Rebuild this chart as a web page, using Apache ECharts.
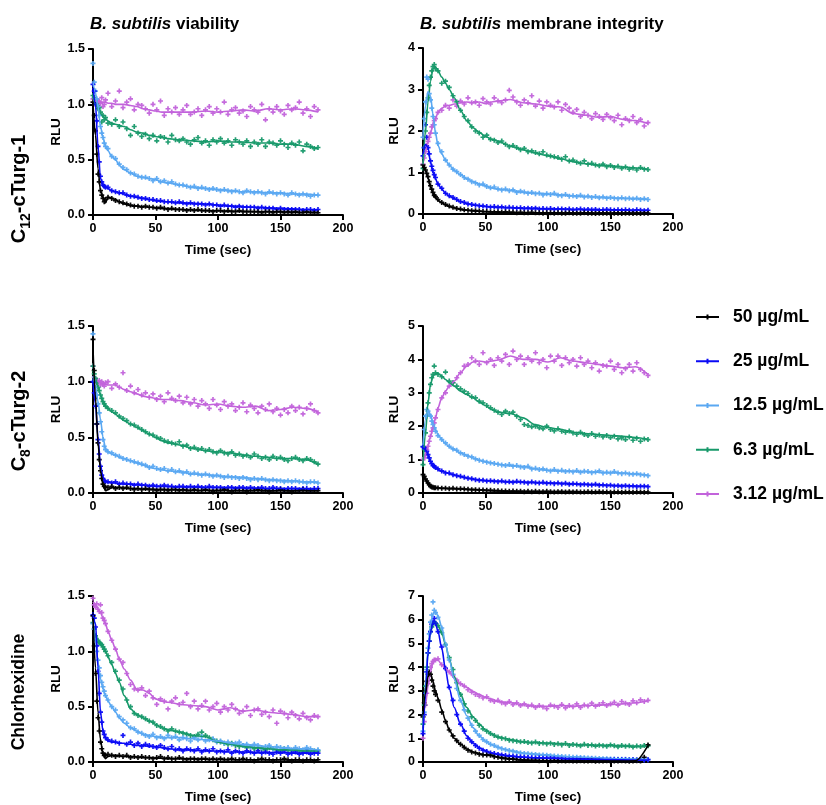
<!DOCTYPE html>
<html><head><meta charset="utf-8">
<script src="https://cdn.jsdelivr.net/npm/echarts@6/dist/echarts.min.js"></script>
<style>html,body{margin:0;padding:0;background:#fff}#chart{width:826px;height:805px}</style>
</head><body><div id="chart"></div>
<script>
const concentrations = ['50 µg/mL', '25 µg/mL', '12.5 µg/mL', '6.3 µg/mL', '3.12 µg/mL'];
const seriesColors = ['#000000', '#0A0AF5', '#5AA8F2', '#17996A', '#C263DB'];
const xTicks = [0, 50, 100, 150, 200];
const fitTimes = [0,2,4,6,8,10,12,15,18,21,25,30,35,40,45,50,55,60,70,80,90,100,110,120,130,140,150,160,170,180];
const pointTimes = [0,1,2,3,4,5,6,7,8,9,10,12,15,18,21,24,27,30,33,36,39,42,45,48,51,54,57,60,63,66,69,72,75,78,81,84,87,90,93,96,99,102,105,108,111,114,117,120,123,126,129,132,135,138,141,144,147,150,153,156,159,162,165,168,171,174,177,180];

// ---- C12-cTurg-1, viability ----
const c12ViaFit50 = [1.0,0.72,0.42,0.22,0.16,0.11,0.16,0.15,0.14,0.12,0.1,0.085,0.08,0.075,0.07,0.065,0.06,0.056,0.05,0.045,0.04,0.038,0.035,0.033,0.03,0.03,0.028,0.026,0.025,0.024];
const c12ViaFit25 = [1.15,1.0,0.62,0.33,0.27,0.25,0.24,0.22,0.21,0.2,0.19,0.17,0.16,0.15,0.14,0.13,0.125,0.12,0.11,0.105,0.1,0.09,0.08,0.075,0.07,0.065,0.06,0.055,0.05,0.048];
const c12ViaFit12_5 = [1.2,1.1,0.98,0.8,0.7,0.62,0.58,0.53,0.5,0.45,0.41,0.38,0.35,0.34,0.33,0.32,0.3,0.29,0.27,0.25,0.24,0.23,0.22,0.21,0.21,0.2,0.2,0.19,0.19,0.18];
const c12ViaFit6_3 = [1.07,1.0,0.96,0.92,0.89,0.87,0.85,0.83,0.82,0.81,0.8,0.77,0.75,0.74,0.72,0.71,0.7,0.69,0.68,0.67,0.66,0.67,0.66,0.66,0.65,0.65,0.64,0.64,0.62,0.6];
const c12ViaFit3_12 = [1.04,1.03,1.02,1.02,1.02,1.02,1.01,1.01,1.0,1.0,1.0,0.99,0.98,0.96,0.95,0.94,0.93,0.93,0.93,0.93,0.94,0.93,0.94,0.95,0.94,0.96,0.95,0.96,0.95,0.93];
const c12ViaPts50 = [1.02,0.9,0.76,0.55,0.37,0.3,0.22,0.18,0.15,0.12,0.14, 0.16,0.15,0.13,0.12,0.11,0.1,0.09,0.08,0.08,0.07, 0.08,0.07,0.07,0.06,0.07,0.06,0.05,0.06,0.05,0.05, 0.05,0.04,0.05,0.04,0.05,0.04,0.04,0.04,0.03,0.04, 0.04,0.03,0.04,0.03,0.03,0.04,0.03,0.03,0.03,0.03, 0.03,0.02,0.03,0.03,0.02,0.03,0.03,0.02,0.03,0.02, 0.03,0.02,0.02,0.03,0.02,0.02,0.02];
const c12ViaPts25 = [1.18,1.12,1.0,0.85,0.62,0.48,0.35,0.3,0.27,0.26,0.25, 0.25,0.22,0.21,0.2,0.2,0.18,0.17,0.17,0.16,0.15, 0.15,0.14,0.14,0.13,0.13,0.12,0.12,0.12,0.11,0.12, 0.11,0.1,0.11,0.1,0.1,0.1,0.09,0.1,0.09,0.09, 0.08,0.09,0.08,0.08,0.07,0.08,0.07,0.07,0.07,0.07, 0.06,0.07,0.06,0.06,0.06,0.05,0.06,0.05,0.05,0.05, 0.05,0.05,0.04,0.05,0.05,0.04,0.05];
const c12ViaPts12_5 = [1.37,1.2,1.12,1.05,0.98,0.9,0.8,0.74,0.7,0.65,0.62, 0.6,0.53,0.51,0.46,0.43,0.41,0.38,0.37,0.35,0.34, 0.34,0.33,0.31,0.33,0.3,0.31,0.29,0.3,0.28,0.27, 0.27,0.26,0.25,0.26,0.24,0.25,0.24,0.23,0.24,0.23, 0.22,0.23,0.22,0.21,0.22,0.21,0.2,0.22,0.21,0.2, 0.21,0.2,0.19,0.21,0.2,0.19,0.2,0.19,0.18,0.2, 0.19,0.18,0.19,0.18,0.17,0.18,0.18];
const c12ViaPts6_3 = [1.08,1.06,1.03,1.0,0.96,0.97,0.93,0.84,0.9,0.86,0.88, 0.83,0.82,0.86,0.8,0.84,0.78,0.72,0.8,0.74,0.71, 0.73,0.69,0.72,0.67,0.71,0.7,0.66,0.72,0.68,0.67, 0.69,0.66,0.64,0.68,0.7,0.65,0.67,0.63,0.68,0.66, 0.69,0.65,0.67,0.63,0.68,0.66,0.64,0.67,0.62,0.66, 0.64,0.68,0.62,0.66,0.65,0.63,0.67,0.64,0.61,0.65, 0.63,0.66,0.58,0.64,0.62,0.6,0.61];
const c12ViaPts3_12 = [1.05,1.02,1.0,1.04,0.99,1.03,1.01,1.06,0.98,1.0,1.04, 1.1,0.98,1.03,1.12,0.97,1.02,1.05,0.95,1.0,0.99, 0.96,0.92,1.0,0.95,1.03,0.9,0.96,0.93,0.97,0.91, 0.95,0.99,0.91,0.93,0.96,0.9,0.95,0.98,0.92,0.96, 0.93,1.02,0.91,0.95,0.97,0.92,0.94,0.89,0.98,0.95, 0.93,1.0,0.86,0.96,0.93,0.98,0.94,0.91,0.99,0.95, 0.97,1.02,0.92,0.96,0.89,0.98,0.95];

// ---- C12-cTurg-1, membrane integrity ----
const c12MemFit50 = [1.15,1.05,0.88,0.65,0.5,0.4,0.33,0.27,0.22,0.18,0.15,0.11,0.09,0.075,0.065,0.055,0.05,0.045,0.04,0.035,0.03,0.03,0.025,0.025,0.02,0.02,0.02,0.02,0.02,0.02];
const c12MemFit25 = [1.45,1.68,1.6,1.25,1.0,0.85,0.72,0.6,0.5,0.43,0.37,0.3,0.25,0.22,0.2,0.18,0.17,0.16,0.15,0.14,0.13,0.12,0.12,0.11,0.11,0.1,0.1,0.1,0.09,0.09];
const c12MemFit12_5 = [1.9,2.6,2.95,2.85,2.4,1.95,1.65,1.45,1.3,1.18,1.05,0.95,0.85,0.78,0.72,0.68,0.63,0.6,0.57,0.52,0.5,0.48,0.46,0.44,0.42,0.41,0.39,0.38,0.37,0.35];
const c12MemFit6_3 = [1.2,2.0,2.7,3.2,3.5,3.55,3.45,3.3,3.15,3.0,2.8,2.5,2.25,2.08,1.97,1.87,1.8,1.75,1.64,1.55,1.47,1.4,1.33,1.26,1.21,1.18,1.16,1.13,1.11,1.08];
const c12MemFit3_12 = [1.2,1.5,1.75,1.95,2.15,2.3,2.45,2.55,2.6,2.62,2.65,2.68,2.7,2.68,2.7,2.66,2.7,2.72,2.76,2.68,2.65,2.6,2.58,2.42,2.38,2.33,2.35,2.28,2.25,2.18];
const c12MemPts50 = [1.18,1.12,1.06,0.98,0.9,0.78,0.68,0.6,0.52,0.45,0.42, 0.35,0.28,0.23,0.19,0.16,0.13,0.12,0.1,0.09,0.08, 0.08,0.07,0.06,0.06,0.05,0.05,0.05,0.04,0.05,0.04, 0.04,0.03,0.04,0.03,0.03,0.04,0.03,0.03,0.02,0.03, 0.03,0.02,0.03,0.02,0.02,0.03,0.02,0.02,0.02,0.03, 0.02,0.02,0.01,0.02,0.02,0.02,0.01,0.02,0.02,0.01, 0.02,0.02,0.01,0.02,0.01,0.02,0.02];
const c12MemPts25 = [1.4,1.6,2.15,1.85,1.6,1.45,1.28,1.15,1.05,0.95,0.88, 0.72,0.62,0.5,0.44,0.4,0.35,0.3,0.28,0.24,0.23, 0.21,0.2,0.19,0.18,0.17,0.18,0.16,0.17,0.15,0.16, 0.15,0.14,0.15,0.13,0.14,0.13,0.14,0.12,0.13,0.12, 0.13,0.11,0.12,0.12,0.11,0.12,0.1,0.11,0.12,0.1, 0.11,0.1,0.11,0.09,0.1,0.11,0.1,0.09,0.1,0.09, 0.1,0.09,0.08,0.1,0.09,0.08,0.09];
const c12MemPts12_5 = [1.85,2.3,2.7,3.3,3.25,2.9,2.75,2.55,2.35,2.15,1.95, 1.7,1.5,1.3,1.18,1.08,1.02,0.95,0.88,0.84,0.78, 0.75,0.7,0.72,0.66,0.63,0.65,0.6,0.58,0.6,0.56, 0.58,0.52,0.55,0.53,0.5,0.52,0.49,0.5,0.46,0.49, 0.47,0.5,0.45,0.44,0.47,0.43,0.44,0.42,0.45,0.41, 0.43,0.4,0.42,0.39,0.41,0.38,0.4,0.38,0.37,0.39, 0.37,0.38,0.36,0.38,0.35,0.37,0.35];
const c12MemPts6_3 = [1.1,1.6,2.0,2.45,2.8,3.1,3.3,3.45,3.55,3.6,3.5, 3.45,3.15,3.2,3.05,2.85,2.7,2.5,2.35,2.25,2.1, 2.0,1.95,1.85,1.9,1.8,1.78,1.72,1.76,1.68,1.62, 1.65,1.6,1.55,1.58,1.5,1.52,1.48,1.45,1.5,1.42, 1.4,1.38,1.36,1.32,1.38,1.28,1.3,1.25,1.22,1.28, 1.2,1.22,1.18,1.16,1.2,1.14,1.17,1.12,1.15,1.1, 1.13,1.08,1.11,1.06,1.12,1.08,1.07];
const c12MemPts3_12 = [1.2,1.35,1.5,1.65,1.75,1.85,1.95,2.1,2.15,2.25,2.3, 2.45,2.5,2.62,2.55,2.75,2.6,2.72,2.65,2.8,2.68, 2.7,2.62,2.78,2.7,2.65,2.8,2.72,2.68,2.75,2.98, 2.82,2.7,2.62,2.75,2.68,2.85,2.6,2.72,2.55,2.7, 2.62,2.58,2.7,2.5,2.64,2.55,2.45,2.52,2.35,2.45, 2.38,2.3,2.42,2.35,2.28,2.4,2.32,2.25,2.38,2.15, 2.3,2.25,2.35,2.2,2.28,2.12,2.2];

// ---- C8-cTurg-2, viability ----
const c8ViaFit50 = [1.3,0.85,0.45,0.2,0.07,0.02,0.03,0.05,0.05,0.05,0.045,0.04,0.04,0.035,0.035,0.033,0.03,0.03,0.028,0.025,0.025,0.024,0.023,0.022,0.022,0.021,0.02,0.02,0.02,0.02];
const c8ViaFit25 = [1.0,0.8,0.5,0.25,0.14,0.11,0.1,0.095,0.09,0.085,0.08,0.08,0.075,0.07,0.065,0.06,0.06,0.058,0.055,0.055,0.05,0.05,0.048,0.045,0.045,0.04,0.04,0.04,0.038,0.036];
const c8ViaFit12_5 = [1.05,0.95,0.82,0.66,0.5,0.4,0.37,0.35,0.34,0.32,0.31,0.29,0.27,0.25,0.23,0.22,0.21,0.2,0.19,0.17,0.165,0.155,0.145,0.14,0.13,0.12,0.115,0.11,0.1,0.095];
const c8ViaFit6_3 = [1.1,1.03,0.95,0.88,0.82,0.78,0.76,0.73,0.71,0.68,0.65,0.62,0.59,0.56,0.53,0.5,0.47,0.45,0.43,0.4,0.38,0.37,0.36,0.34,0.33,0.32,0.31,0.31,0.3,0.26];
const c8ViaFit3_12 = [1.05,1.02,1.0,0.99,0.98,0.98,0.97,0.97,0.97,0.95,0.93,0.91,0.89,0.87,0.86,0.85,0.84,0.84,0.83,0.81,0.79,0.8,0.78,0.77,0.78,0.74,0.75,0.77,0.76,0.73];
const c8ViaPts50 = [1.38,1.1,0.85,0.62,0.45,0.3,0.2,0.13,0.08,0.06,0.05, 0.05,0.06,0.04,0.05,0.04,0.05,0.04,0.03,0.04,0.03, 0.04,0.03,0.03,0.02,0.03,0.03,0.02,0.03,0.03,0.02, 0.03,0.02,0.02,0.03,0.02,0.02,0.03,0.02,0.01,0.02, 0.02,0.03,0.02,0.01,0.02,0.02,0.02,0.01,0.02,0.02, 0.03,0.02,0.02,0.01,0.02,0.02,0.03,0.02,0.02,0.01, 0.02,0.02,0.03,0.02,0.02,0.02,0.02];
const c8ViaPts25 = [1.0,0.9,0.78,0.62,0.48,0.35,0.24,0.16,0.13,0.11,0.1, 0.1,0.09,0.1,0.08,0.09,0.08,0.08,0.07,0.08,0.07, 0.07,0.06,0.07,0.06,0.06,0.07,0.06,0.06,0.05,0.06, 0.06,0.05,0.06,0.05,0.06,0.05,0.05,0.06,0.05,0.05, 0.05,0.04,0.05,0.05,0.04,0.05,0.05,0.04,0.05,0.04, 0.04,0.05,0.04,0.04,0.05,0.04,0.04,0.03,0.04,0.04, 0.04,0.03,0.04,0.04,0.03,0.04,0.04];
const c8ViaPts12_5 = [1.43,1.0,0.95,0.88,0.8,0.72,0.64,0.55,0.48,0.42,0.39, 0.37,0.36,0.34,0.33,0.31,0.3,0.29,0.28,0.27,0.26, 0.25,0.23,0.24,0.22,0.21,0.22,0.2,0.21,0.19,0.2, 0.18,0.19,0.17,0.18,0.17,0.16,0.17,0.16,0.15,0.16, 0.15,0.14,0.15,0.14,0.14,0.13,0.14,0.13,0.12,0.13, 0.12,0.13,0.12,0.11,0.12,0.11,0.11,0.1,0.11,0.1, 0.11,0.1,0.1,0.09,0.1,0.1,0.09];
const c8ViaPts6_3 = [1.14,1.07,1.03,0.99,0.95,0.92,0.88,0.85,0.82,0.8,0.78, 0.76,0.74,0.72,0.69,0.67,0.65,0.62,0.61,0.59,0.57, 0.55,0.53,0.52,0.5,0.49,0.47,0.46,0.45,0.44,0.46, 0.42,0.43,0.4,0.41,0.39,0.4,0.38,0.39,0.37,0.36, 0.38,0.36,0.35,0.37,0.34,0.35,0.33,0.34,0.32,0.35, 0.33,0.31,0.32,0.3,0.33,0.31,0.32,0.3,0.29,0.31, 0.32,0.3,0.29,0.31,0.3,0.28,0.26];
const c8ViaPts3_12 = [1.14,1.04,1.02,1.0,0.99,1.01,0.97,1.0,0.98,0.96,0.99, 1.0,0.94,0.98,0.95,1.08,0.92,0.96,0.9,0.93,0.88, 0.9,0.86,0.89,0.84,0.87,0.82,0.9,0.85,0.83,0.87, 0.81,0.86,0.8,0.84,0.78,0.83,0.8,0.76,0.84,0.79, 0.75,0.82,0.78,0.8,0.74,0.77,0.81,0.73,0.79,0.76, 0.72,0.78,0.75,0.8,0.73,0.76,0.7,0.75,0.72,0.78, 0.74,0.77,0.71,0.76,0.8,0.74,0.72];

// ---- C8-cTurg-2, membrane integrity ----
const c8MemFit50 = [0.55,0.4,0.28,0.2,0.17,0.16,0.15,0.14,0.14,0.13,0.13,0.12,0.11,0.1,0.09,0.08,0.07,0.06,0.05,0.05,0.04,0.04,0.04,0.04,0.035,0.035,0.03,0.03,0.03,0.03];
const c8MemFit25 = [1.35,1.3,1.15,0.95,0.82,0.75,0.7,0.65,0.62,0.58,0.54,0.49,0.45,0.42,0.39,0.37,0.36,0.35,0.33,0.33,0.31,0.3,0.29,0.27,0.26,0.25,0.23,0.22,0.21,0.2];
const c8MemFit12_5 = [1.45,2.2,2.48,2.35,2.1,1.9,1.75,1.6,1.48,1.38,1.3,1.2,1.13,1.05,0.98,0.94,0.9,0.86,0.82,0.8,0.72,0.68,0.66,0.65,0.64,0.62,0.61,0.6,0.57,0.53];
const c8MemFit6_3 = [0.9,1.8,2.7,3.25,3.5,3.58,3.58,3.5,3.4,3.3,3.2,3.05,2.95,2.85,2.72,2.62,2.5,2.42,2.38,2.25,2.04,1.96,1.9,1.82,1.78,1.75,1.72,1.7,1.66,1.6];
const c8MemFit3_12 = [1.0,1.15,1.4,1.7,1.95,2.25,2.55,2.85,3.05,3.2,3.35,3.6,3.8,3.92,3.95,3.92,3.95,3.98,4.1,4.0,4.0,3.92,4.05,3.95,3.9,3.85,3.8,3.75,3.78,3.55];
const c8MemPts50 = [0.55,0.5,0.42,0.36,0.3,0.25,0.2,0.18,0.17,0.16,0.16, 0.15,0.14,0.14,0.13,0.14,0.12,0.13,0.12,0.11,0.1, 0.1,0.09,0.09,0.08,0.08,0.07,0.07,0.06,0.06,0.05, 0.06,0.05,0.05,0.04,0.05,0.04,0.05,0.04,0.04,0.05, 0.04,0.03,0.04,0.04,0.03,0.04,0.03,0.04,0.03,0.03, 0.04,0.03,0.03,0.04,0.03,0.03,0.02,0.03,0.03,0.02, 0.03,0.03,0.02,0.03,0.03,0.02,0.03];
const c8MemPts25 = [1.38,1.35,1.32,1.25,1.15,1.05,0.95,0.88,0.82,0.8,0.76, 0.72,0.66,0.6,0.6,0.55,0.52,0.5,0.47,0.44,0.43, 0.4,0.38,0.38,0.36,0.37,0.35,0.34,0.36,0.33,0.34, 0.32,0.35,0.33,0.32,0.3,0.33,0.31,0.3,0.32,0.29, 0.3,0.28,0.3,0.27,0.29,0.26,0.28,0.27,0.25,0.26, 0.25,0.24,0.26,0.23,0.24,0.22,0.23,0.21,0.22,0.2, 0.22,0.2,0.21,0.19,0.2,0.2,0.19];
const c8MemPts12_5 = [1.4,1.9,2.3,2.5,2.45,2.35,2.3,2.15,2.05,1.95,1.85, 1.72,1.6,1.5,1.4,1.32,1.28,1.2,1.15,1.1,1.08, 1.02,0.98,0.95,0.92,0.9,0.88,0.86,0.84,0.82,0.85, 0.8,0.82,0.78,0.76,0.8,0.72,0.74,0.7,0.72,0.68, 0.66,0.7,0.65,0.68,0.64,0.66,0.63,0.67,0.62,0.65, 0.64,0.61,0.63,0.66,0.6,0.62,0.6,0.64,0.6,0.58, 0.6,0.57,0.56,0.58,0.55,0.54,0.52];
const c8MemPts6_3 = [0.85,1.3,1.8,2.3,2.7,3.0,3.25,3.45,3.55,3.8,3.6, 3.55,3.48,3.62,3.35,3.3,3.2,3.12,3.05,2.98,2.88, 2.85,2.75,2.7,2.62,2.55,2.48,2.42,2.35,2.45,2.38, 2.42,2.3,2.2,2.05,2.02,1.98,2.0,1.95,1.92,2.0, 1.9,1.86,1.92,1.85,1.82,1.86,1.8,1.76,1.82,1.75, 1.72,1.78,1.7,1.74,1.68,1.72,1.66,1.7,1.62,1.65, 1.6,1.68,1.58,1.64,1.55,1.62,1.6];
const c8MemPts3_12 = [1.0,1.05,1.15,1.3,1.4,1.55,1.7,1.85,1.95,2.1,2.25, 2.5,2.85,3.0,3.2,3.3,3.45,3.6,3.8,3.85,4.05, 3.95,3.85,4.2,3.9,4.0,3.82,4.05,3.95,4.15,3.85, 4.25,4.0,4.1,3.85,4.05,3.95,4.2,3.9,4.0,3.75, 4.1,3.95,4.1,3.82,4.05,3.9,4.0,3.8,4.05,3.85, 3.95,3.75,3.9,3.65,3.82,3.8,3.95,3.7,3.85,3.6, 3.72,3.85,3.65,3.9,3.7,3.6,3.52];

// ---- Chlorhexidine, viability ----
const chxViaFit50 = [1.3,0.85,0.45,0.2,0.07,0.03,0.05,0.06,0.06,0.055,0.05,0.05,0.045,0.04,0.04,0.035,0.035,0.03,0.03,0.028,0.025,0.025,0.022,0.02,0.02,0.02,0.02,0.019,0.018,0.018];
const chxViaFit25 = [1.33,1.25,0.85,0.45,0.28,0.22,0.19,0.18,0.18,0.17,0.17,0.16,0.15,0.15,0.14,0.14,0.13,0.12,0.11,0.11,0.1,0.1,0.09,0.09,0.085,0.085,0.085,0.08,0.08,0.08];
const chxViaFit12_5 = [1.25,1.1,0.9,0.75,0.66,0.6,0.55,0.5,0.45,0.4,0.35,0.31,0.28,0.25,0.24,0.23,0.22,0.22,0.22,0.21,0.2,0.19,0.17,0.16,0.15,0.14,0.13,0.12,0.12,0.11];
const chxViaFit6_3 = [1.25,1.15,1.1,1.07,1.04,1.0,0.95,0.88,0.8,0.72,0.6,0.48,0.43,0.4,0.37,0.34,0.31,0.29,0.27,0.24,0.23,0.18,0.16,0.14,0.13,0.12,0.11,0.11,0.1,0.1];
const chxViaFit3_12 = [1.45,1.42,1.38,1.35,1.3,1.25,1.18,1.1,1.02,0.93,0.84,0.74,0.66,0.65,0.62,0.57,0.55,0.54,0.52,0.51,0.5,0.47,0.49,0.46,0.47,0.45,0.44,0.43,0.41,0.41];
const chxViaPts50 = [1.32,1.05,0.8,0.55,0.4,0.28,0.18,0.12,0.08,0.06,0.06, 0.07,0.06,0.05,0.06,0.05,0.06,0.04,0.05,0.04,0.05, 0.04,0.04,0.03,0.04,0.05,0.03,0.04,0.03,0.03,0.04, 0.03,0.02,0.03,0.03,0.02,0.03,0.03,0.02,0.03,0.02, 0.03,0.02,0.02,0.03,0.02,0.02,0.03,0.02,0.02,0.01, 0.02,0.03,0.02,0.02,0.01,0.02,0.02,0.03,0.02,0.01, 0.02,0.02,0.01,0.02,0.02,0.01,0.02];
const chxViaPts25 = [1.33,1.3,1.22,1.05,0.82,0.62,0.45,0.36,0.28,0.25,0.22, 0.2,0.19,0.18,0.17,0.24,0.16,0.18,0.15,0.17,0.14, 0.16,0.15,0.14,0.13,0.15,0.13,0.12,0.14,0.11,0.12, 0.1,0.12,0.11,0.1,0.12,0.09,0.11,0.1,0.12,0.09, 0.1,0.09,0.11,0.08,0.1,0.09,0.08,0.1,0.09,0.08, 0.1,0.08,0.09,0.08,0.07,0.09,0.08,0.1,0.07,0.08, 0.09,0.07,0.08,0.09,0.07,0.08,0.08];
const chxViaPts12_5 = [1.25,1.2,1.1,1.0,0.92,0.85,0.78,0.72,0.68,0.64,0.6, 0.56,0.5,0.47,0.41,0.38,0.35,0.31,0.3,0.27,0.26, 0.24,0.23,0.25,0.22,0.23,0.21,0.24,0.22,0.23,0.2, 0.22,0.21,0.19,0.22,0.2,0.23,0.19,0.2,0.21,0.18, 0.19,0.17,0.18,0.16,0.17,0.18,0.15,0.16,0.14,0.16, 0.15,0.13,0.14,0.15,0.12,0.14,0.13,0.12,0.13,0.11, 0.13,0.12,0.11,0.13,0.12,0.1,0.11];
const chxViaPts6_3 = [1.26,1.2,1.14,1.1,1.1,1.08,1.07,1.06,1.04,1.02,1.0, 0.96,0.9,0.82,0.74,0.66,0.56,0.5,0.44,0.42,0.41, 0.39,0.37,0.36,0.33,0.32,0.3,0.28,0.3,0.28,0.27, 0.26,0.25,0.24,0.23,0.25,0.27,0.24,0.22,0.2,0.19, 0.18,0.17,0.16,0.17,0.15,0.14,0.15,0.13,0.14,0.12, 0.13,0.12,0.11,0.13,0.12,0.11,0.1,0.12,0.11,0.1, 0.11,0.1,0.09,0.11,0.1,0.1,0.1];
const chxViaPts3_12 = [1.48,1.42,1.4,1.43,1.38,1.36,1.42,1.35,1.3,1.28,1.25, 1.18,1.1,1.02,0.93,0.9,0.8,0.7,0.66,0.65,0.67, 0.6,0.64,0.58,0.52,0.57,0.55,0.48,0.55,0.58,0.52, 0.54,0.62,0.5,0.55,0.48,0.51,0.55,0.47,0.5,0.53, 0.45,0.5,0.47,0.52,0.48,0.44,0.46,0.5,0.42,0.47, 0.48,0.43,0.45,0.41,0.47,0.35,0.46,0.44,0.4,0.45, 0.42,0.39,0.44,0.4,0.38,0.42,0.41];

// ---- Chlorhexidine, membrane integrity ----
const chxMemFit50 = [2.0,2.9,3.6,3.75,3.4,3.0,2.7,2.2,1.75,1.35,1.0,0.75,0.55,0.42,0.35,0.3,0.28,0.2,0.13,0.08,0.06,0.05,0.05,0.04,0.04,0.04,0.04,0.04,0.05,0.7];
const chxMemFit25 = [1.2,2.8,4.6,5.5,5.85,5.85,5.5,4.8,3.9,3.1,2.3,1.6,1.1,0.8,0.6,0.47,0.38,0.32,0.25,0.2,0.18,0.16,0.15,0.13,0.12,0.11,0.1,0.09,0.08,0.08];
const chxMemFit12_5 = [1.3,3.0,4.8,5.8,6.25,6.35,6.15,5.7,5.0,4.3,3.5,2.6,1.95,1.45,1.1,0.88,0.72,0.62,0.48,0.38,0.33,0.3,0.25,0.22,0.2,0.18,0.15,0.13,0.12,0.1];
const chxMemFit6_3 = [1.6,3.2,4.6,5.5,5.85,5.85,5.75,5.45,4.95,4.35,3.6,2.85,2.3,1.9,1.6,1.35,1.18,1.05,0.95,0.85,0.82,0.8,0.78,0.74,0.72,0.7,0.7,0.68,0.66,0.67];
const chxMemFit3_12 = [1.6,2.4,3.2,3.8,4.2,4.3,4.3,4.1,3.95,3.8,3.55,3.3,3.15,2.98,2.85,2.72,2.65,2.55,2.5,2.42,2.35,2.35,2.38,2.35,2.38,2.4,2.42,2.45,2.5,2.58];
const chxMemPts50 = [1.9,2.5,3.0,3.4,3.7,3.8,3.7,3.45,3.2,3.0,2.85, 2.6,2.1,1.7,1.35,1.1,0.9,0.75,0.62,0.5,0.42, 0.38,0.33,0.3,0.3,0.28,0.22,0.2,0.16,0.14,0.12, 0.12,0.1,0.09,0.08,0.07,0.06,0.07,0.05,0.06,0.05, 0.05,0.06,0.04,0.05,0.04,0.05,0.04,0.04,0.05,0.04, 0.04,0.05,0.03,0.04,0.04,0.05,0.03,0.04,0.04,0.05, 0.04,0.03,0.04,0.05,0.04,0.2,0.72];
const chxMemPts25 = [1.2,2.0,2.9,3.8,4.6,5.1,5.5,5.8,5.9,6.05,5.85, 5.5,4.85,3.95,3.15,2.6,2.0,1.6,1.3,1.0,0.85, 0.7,0.58,0.5,0.44,0.38,0.36,0.32,0.3,0.27,0.25, 0.24,0.22,0.21,0.2,0.19,0.18,0.17,0.18,0.16,0.17, 0.15,0.16,0.14,0.15,0.13,0.14,0.13,0.12,0.13,0.12, 0.11,0.12,0.11,0.1,0.11,0.1,0.1,0.09,0.1,0.09, 0.09,0.08,0.09,0.08,0.09,0.08,0.1];
const chxMemPts12_5 = [1.3,2.1,3.0,3.9,4.8,5.4,5.9,6.2,6.75,6.4,6.3, 6.1,5.65,4.95,4.3,3.7,3.1,2.6,2.2,1.85,1.55, 1.3,1.12,0.95,0.85,0.75,0.7,0.62,0.56,0.52,0.48, 0.45,0.4,0.38,0.36,0.35,0.33,0.32,0.3,0.29,0.28, 0.26,0.25,0.24,0.23,0.22,0.22,0.2,0.2,0.19,0.18, 0.17,0.16,0.16,0.15,0.14,0.14,0.13,0.13,0.12,0.12, 0.12,0.11,0.11,0.1,0.11,0.1,0.1];
const chxMemPts6_3 = [1.6,2.4,3.2,4.0,4.6,5.1,5.5,5.7,5.85,5.9,5.85, 5.75,5.45,4.95,4.4,3.9,3.35,2.85,2.45,2.15,1.9, 1.75,1.55,1.4,1.3,1.2,1.12,1.05,1.0,0.98,0.92, 0.9,0.88,0.85,0.86,0.82,0.8,0.84,0.78,0.8,0.76, 0.79,0.74,0.77,0.72,0.78,0.7,0.74,0.72,0.68,0.75, 0.7,0.72,0.67,0.71,0.69,0.66,0.72,0.68,0.64,0.7, 0.66,0.69,0.63,0.67,0.65,0.7,0.68];
const chxMemPts3_12 = [1.0,1.7,2.4,2.9,3.3,3.7,4.0,4.15,4.25,4.3,4.3, 4.35,4.1,3.95,3.8,3.65,3.45,3.3,3.2,3.05,2.95, 2.85,2.78,2.7,2.75,2.6,2.55,2.6,2.5,2.45,2.55, 2.42,2.5,2.38,2.45,2.35,2.4,2.3,2.38,2.32,2.25, 2.4,2.35,2.3,2.42,2.28,2.38,2.33,2.45,2.3,2.4, 2.36,2.48,2.35,2.42,2.5,2.38,2.45,2.52,2.4,2.55, 2.48,2.42,2.58,2.5,2.62,2.55,2.6];

const titleTexts = ['viability', 'membrane integrity'];
const rowLabels = [['C', '12', '-cTurg-1'], ['C', '8', '-cTurg-2'], ['Chlorhexidine', '', '']];

const FONT = '"Liberation Sans", Arial, Helvetica, sans-serif';
const plusSymbol = 'path://M1,0H2V1H3V2H2V3H1V2H0V1H1Z';
const legendIcon = 'path://M0,1.5H23V3.5H0Z M10.5,0H12.5V5H10.5Z';

const panels = [
  {grid: {left: 93, top: 49, width: 250, height: 166}, yMax: 1.5, yInt: 0.5, nameGap: 30,
   fits: [c12ViaFit50, c12ViaFit25, c12ViaFit12_5, c12ViaFit6_3, c12ViaFit3_12],
   pts: [c12ViaPts50, c12ViaPts25, c12ViaPts12_5, c12ViaPts6_3, c12ViaPts3_12]},
  {grid: {left: 423, top: 48, width: 250, height: 166}, yMax: 4, yInt: 1, nameGap: 22,
   fits: [c12MemFit50, c12MemFit25, c12MemFit12_5, c12MemFit6_3, c12MemFit3_12],
   pts: [c12MemPts50, c12MemPts25, c12MemPts12_5, c12MemPts6_3, c12MemPts3_12]},
  {grid: {left: 93, top: 326, width: 250, height: 167}, yMax: 1.5, yInt: 0.5, nameGap: 30,
   fits: [c8ViaFit50, c8ViaFit25, c8ViaFit12_5, c8ViaFit6_3, c8ViaFit3_12],
   pts: [c8ViaPts50, c8ViaPts25, c8ViaPts12_5, c8ViaPts6_3, c8ViaPts3_12]},
  {grid: {left: 423, top: 326, width: 250, height: 167}, yMax: 5, yInt: 1, nameGap: 22,
   fits: [c8MemFit50, c8MemFit25, c8MemFit12_5, c8MemFit6_3, c8MemFit3_12],
   pts: [c8MemPts50, c8MemPts25, c8MemPts12_5, c8MemPts6_3, c8MemPts3_12]},
  {grid: {left: 93, top: 596, width: 250, height: 167}, yMax: 1.5, yInt: 0.5, nameGap: 30,
   fits: [chxViaFit50, chxViaFit25, chxViaFit12_5, chxViaFit6_3, chxViaFit3_12],
   pts: [chxViaPts50, chxViaPts25, chxViaPts12_5, chxViaPts6_3, chxViaPts3_12]},
  {grid: {left: 423, top: 596, width: 250, height: 167}, yMax: 7, yInt: 1, nameGap: 22,
   fits: [chxMemFit50, chxMemFit25, chxMemFit12_5, chxMemFit6_3, chxMemFit3_12],
   pts: [chxMemPts50, chxMemPts25, chxMemPts12_5, chxMemPts6_3, chxMemPts3_12]}
];

const boldText = {fontFamily: FONT, fontWeight: 'bold', color: '#000'};
const grids = [], xAxes = [], yAxes = [], series = [];
panels.forEach((p, i) => {
  grids.push(Object.assign({containLabel: false}, p.grid));
  xAxes.push({
    gridIndex: i, type: 'value', min: xTicks[0], max: xTicks[xTicks.length - 1], interval: 50,
    name: 'Time (sec)', nameLocation: 'middle', nameGap: 28,
    nameTextStyle: Object.assign({fontSize: 13.5}, boldText),
    axisLine: {show: true, onZero: false, lineStyle: {color: '#000', width: 2}},
    axisTick: {show: true, length: 5, lineStyle: {color: '#000', width: 2}},
    axisLabel: Object.assign({fontSize: 12.5, margin: 7}, boldText),
    splitLine: {show: false}
  });
  yAxes.push({
    gridIndex: i, type: 'value', min: 0, max: p.yMax, interval: p.yInt,
    name: 'RLU', nameLocation: 'middle', nameGap: p.nameGap,
    nameTextStyle: Object.assign({fontSize: 13.5}, boldText),
    axisLine: {show: true, lineStyle: {color: '#000', width: 2}},
    axisTick: {show: true, length: 5, lineStyle: {color: '#000', width: 2}},
    axisLabel: Object.assign({fontSize: 12.5, margin: 8,
      formatter: v => p.yInt < 1 ? v.toFixed(1) : String(v)}, boldText),
    splitLine: {show: false}
  });
  for (let k = 4; k >= 0; k--) {
    series.push({
      type: 'line', name: concentrations[k], xAxisIndex: i, yAxisIndex: i,
      data: fitTimes.map((t, j) => [t, p.fits[k][j]]),
      smooth: 0.3, smoothMonotone: 'x', symbol: 'none', showSymbol: false, clip: false,
      lineStyle: {color: seriesColors[k], width: 1.6}, itemStyle: {color: seriesColors[k]},
      z: 3 + (4 - k) * 0.01, silent: true
    });
  }
  for (let k = 4; k >= 0; k--) {
    series.push({
      type: 'scatter', name: concentrations[k], xAxisIndex: i, yAxisIndex: i,
      data: pointTimes.map((t, j) => [t, p.pts[k][j]]),
      symbol: plusSymbol, symbolSize: 5, clip: false,
      itemStyle: {color: seriesColors[k], opacity: 0.95},
      z: 2, silent: true
    });
  }
});

const graphics = [];
const titleLefts = [90, 420];
titleTexts.forEach((t, c) => {
  graphics.push({
    type: 'text', x: titleLefts[c], y: 24,
    style: {
      text: '{i|B. subtilis}{n| ' + t + '}',
      align: 'left', verticalAlign: 'middle',
      rich: {
        i: {fontFamily: FONT, fontWeight: 'bold', fontStyle: 'italic', fontSize: 17, fill: '#000', color: '#000'},
        n: {fontFamily: FONT, fontWeight: 'bold', fontSize: 17, fill: '#000', color: '#000'}
      }
    }
  });
});
const rowCenters = [[21, 189], [21, 421], [21, 692]];
const rowFont = [[20, 14], [20, 14], [17.5, 12]];
rowLabels.forEach((parts, r) => {
  let txt = '{b|' + parts[0] + '}';
  if (parts[1]) txt += '{s|' + parts[1] + '}';
  if (parts[2]) txt += '{b|' + parts[2] + '}';
  graphics.push({
    type: 'text', x: rowCenters[r][0], y: rowCenters[r][1], rotation: Math.PI / 2,
    style: {
      text: txt, align: 'center', verticalAlign: 'middle',
      rich: {
        b: {fontFamily: FONT, fontWeight: 'bold', fontSize: rowFont[r][0], fill: '#000', color: '#000', lineHeight: rowFont[r][0] + 4, verticalAlign: 'top'},
        s: {fontFamily: FONT, fontWeight: 'bold', fontSize: rowFont[r][1], fill: '#000', color: '#000', lineHeight: rowFont[r][1], verticalAlign: 'bottom'}
      }
    }
  });
});

const chart = echarts.init(document.getElementById('chart'), null, {renderer: 'canvas'});
chart.setOption({
  backgroundColor: '#ffffff',
  animation: false,
  grid: grids, xAxis: xAxes, yAxis: yAxes, series: series,
  legend: {
    orient: 'vertical', left: 696, top: 308, padding: 0,
    itemWidth: 23, itemHeight: 5, itemGap: 26.25,
    selectedMode: false, icon: legendIcon,
    data: concentrations,
    textStyle: Object.assign({fontSize: 17.5, padding: [0, 0, 0, 9]}, boldText)
  },
  graphic: graphics
});
</script>
</body></html>
